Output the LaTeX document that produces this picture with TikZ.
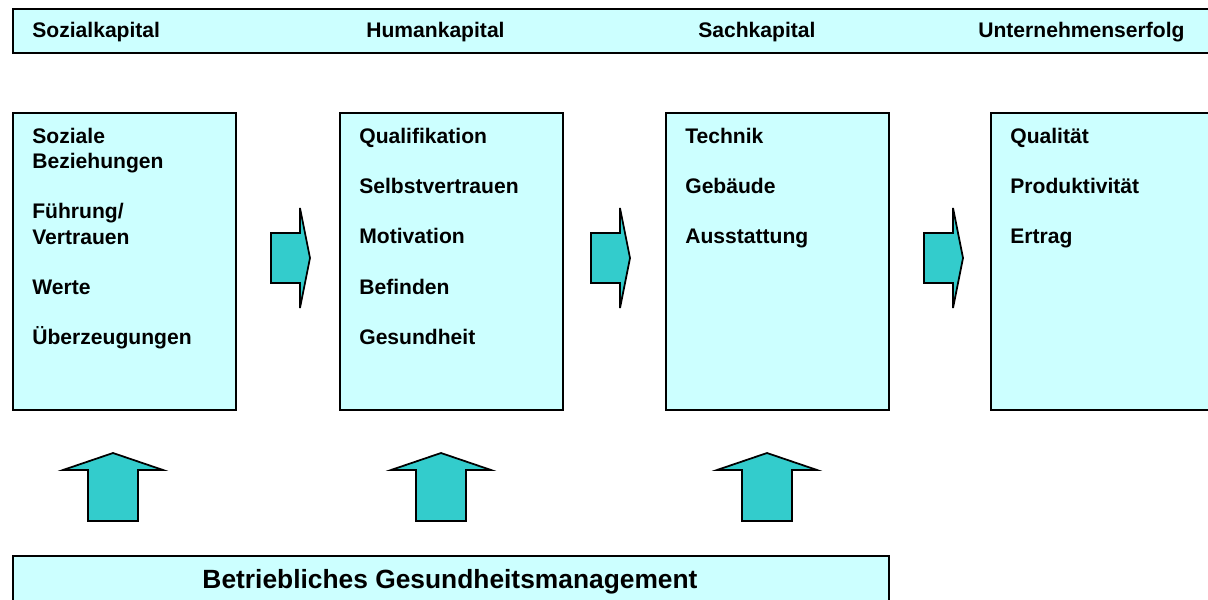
\documentclass[tikz,border=0pt]{standalone}
\usepackage{fontspec}
\setmainfont{Liberation Sans}
\usetikzlibrary{positioning}

\definecolor{boxcyan}{HTML}{CCFFFF}
\definecolor{arrowteal}{HTML}{33CCCC}

\begin{document}
\begin{tikzpicture}[
    x=0.02cm, y=-0.02cm,
    every node/.style={font=\fontsize{12}{14.4}\selectfont\bfseries},
    capbox/.style={draw, line width=1pt, fill=boxcyan, anchor=north west,
        minimum width=4.46cm, minimum height=5.94cm, inner sep=0pt},
    itemlist/.style={anchor=north west, align=left, inner sep=0pt},
    headlabel/.style={anchor=west, inner sep=0pt},
    blockarrow/.style={draw, line width=1pt, fill=arrowteal, line join=miter}
]
    \useasboundingbox (0,0) rectangle (1208,599);
    \clip (0,0) rectangle (1208,599);

    % top bar
    \node (bar) [draw, line width=1pt, fill=boxcyan, anchor=north west,
        minimum width=24.4cm, minimum height=0.88cm] at (12,8) {};
    \node (soz) [headlabel] at (32,32) {Sozialkapital};
    \node (hum) [headlabel] at (366,32) {Humankapital};
    \node (sach) [headlabel] at (698,32) {Sachkapital};
    \node (erf) [headlabel] at (978,32) {Unternehmenserfolg};

    % the four boxes
    \node (box1) [capbox] at (12,112) {};
    \node (box2) [capbox] at (339,112) {};
    \node (box3) [capbox] at (665,112) {};
    \node (box4) [capbox] at (990,112) {};

    \node (list1) [itemlist] at ([xshift=0.4cm, yshift=-0.31cm]box1.north west)
        {Soziale\\Beziehungen\\[0.5cm]F\"uhrung/\\Vertrauen\\[0.5cm]Werte\\[0.5cm]\"Uberzeugungen};
    \node (list2) [itemlist] at ([xshift=0.4cm, yshift=-0.31cm]box2.north west)
        {Qualifikation\\[0.5cm]Selbstvertrauen\\[0.5cm]Motivation\\[0.5cm]Befinden\\[0.5cm]Gesundheit};
    \node (list3) [itemlist] at ([xshift=0.4cm, yshift=-0.31cm]box3.north west)
        {Technik\\[0.5cm]Geb\"aude\\[0.5cm]Ausstattung};
    \node (list4) [itemlist] at ([xshift=0.4cm, yshift=-0.31cm]box4.north west)
        {Qualit\"at\\[0.5cm]Produktivit\"at\\[0.5cm]Ertrag};

    % arrows between the boxes
    \foreach \x in {271, 591, 924}
        \filldraw[blockarrow] (\x,233) -- ++(29,0) -- ++(0,-25) -- ++(10,50)
            -- ++(-10,50) -- ++(0,-25) -- ++(-29,0) -- cycle;

    % arrows from the bottom box
    \foreach \x in {113, 441, 767}
        \filldraw[blockarrow] (\x-25,521) -- ++(0,-51) -- ++(-25,0) -- ++(50,-17)
            -- ++(50,17) -- ++(-25,0) -- ++(0,51) -- cycle;

    % bottom box
    \node (bgm) [draw, line width=1pt, fill=boxcyan, anchor=north west,
        minimum width=17.52cm, minimum height=1.4cm] at (12,555) {};
    \node (bgmtext) [font=\fontsize{15}{18}\selectfont\bfseries, inner sep=0pt]
        at (450,582) {Betriebliches Gesundheitsmanagement};
\end{tikzpicture}
\end{document}
